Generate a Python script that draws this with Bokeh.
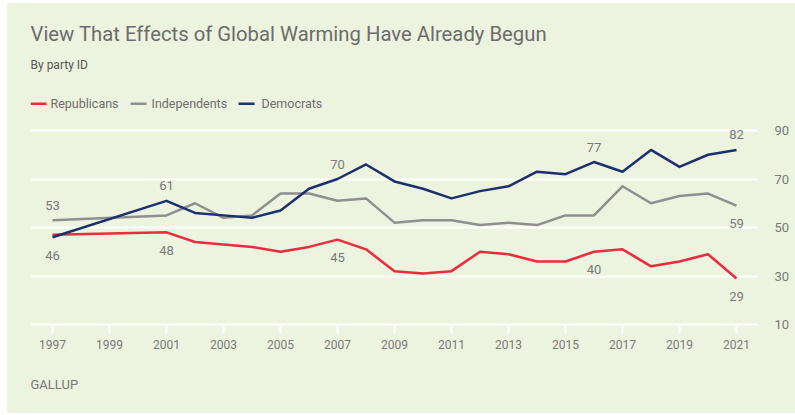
from bokeh.plotting import figure
from bokeh.models import FixedTicker, ColumnDataSource, Spacer, Range1d
from bokeh.layouts import column, row
from bokeh.core.properties import value
from bokeh.embed import file_html
from bokeh.resources import INLINE

# Share who say the effects of global warming have already begun, by party ID
years = [1997, 2001, 2002, 2003, 2004, 2005, 2006, 2007, 2008, 2009, 2010,
         2011, 2012, 2013, 2014, 2015, 2016, 2017, 2018, 2019, 2020, 2021]
republicans = [47, 48, 44, 43, 42, 40, 42, 45, 41, 32, 31,
               32, 40, 39, 36, 36, 40, 41, 34, 36, 39, 29]
independents = [53, 55, 60, 54, 55, 64, 64, 61, 62, 52, 53,
                53, 51, 52, 51, 55, 55, 67, 60, 63, 64, 59]
democrats = [46, 61, 56, 55, 54, 57, 66, 70, 76, 69, 66,
             62, 65, 67, 73, 72, 77, 73, 82, 75, 80, 82]

series_names = ["Republicans", "Independents", "Democrats"]
series_colors = ["#EF2A3D", "#8F8F8F", "#1C2F6E"]

# Annotated points: (series index, year, placement)
callouts = [
    (1, 1997, "above"), (2, 1997, "below"),
    (2, 2001, "above"), (0, 2001, "below"),
    (2, 2007, "above"), (0, 2007, "below"),
    (2, 2016, "above"), (0, 2016, "below"),
    (2, 2021, "above"), (1, 2021, "below"), (0, 2021, "below"),
]

x_ticks = list(range(1997, 2022, 2))
y_ticks = [10, 30, 50, 70, 90]

BG = "#ECF3DF"
FONT = "Roboto"
W = 788
LEFT, RIGHT = 23, 38          # side borders shared by every strip


def panel(height):
    """A blank strip whose data units are its own pixels."""
    f = figure(width=W, height=height, output_backend="svg", toolbar_location=None,
               x_range=Range1d(LEFT, W - RIGHT), y_range=Range1d(height, 0),
               min_border_left=LEFT, min_border_right=RIGHT,
               min_border_top=0, min_border_bottom=0,
               x_axis_type=None, y_axis_type=None)
    f.title.visible = False
    f.background_fill_color = BG
    f.border_fill_color = BG
    f.outline_line_color = None
    f.xgrid.visible = False
    f.ygrid.visible = False
    return f


def strip_text(f, x, y, s, size, color):
    f.text(x=[x], y=[y], text=[s], text_font=value(FONT), text_font_size=size,
           text_color=color, text_baseline="middle")


# ---- heading strip: title, subtitle, legend
head = panel(115)
strip_text(head, 23, 30, "View That Effects of Global Warming Have Already Begun",
           "20.3px", "#6C6C6C")
strip_text(head, 23, 61, "By party ID", "12px", "#555555")
legend_swatch_x = [23, 123, 231]
legend_text_x = [43, 144, 254]
for name, color, sx, tx in zip(series_names, series_colors, legend_swatch_x, legend_text_x):
    head.line([sx, sx + 16], [100.3, 100.3], line_color=color, line_width=2.5)
    strip_text(head, tx, 100.3, name, "12.5px", "#6E6E6E")

# ---- main chart
p = figure(width=W, height=236, output_backend="svg", toolbar_location=None,
           x_range=Range1d(1996.228, 2021.737), y_range=Range1d(10, 94.95),
           y_axis_location="right",
           min_border_left=LEFT, min_border_right=RIGHT,
           min_border_top=0, min_border_bottom=30)
p.background_fill_color = BG
p.border_fill_color = BG
p.outline_line_color = None

p.xgrid.visible = False
p.ygrid.ticker = FixedTicker(ticks=y_ticks)
p.ygrid.grid_line_color = "white"
p.ygrid.grid_line_width = 2

xa = p.xaxis[0]
xa.ticker = FixedTicker(ticks=x_ticks)
xa.axis_line_color = "white"
xa.axis_line_width = 2
xa.major_tick_line_color = "white"
xa.major_tick_line_width = 2
xa.major_tick_in = 0
xa.major_tick_out = 9
xa.minor_tick_line_color = None
xa.major_label_standoff = 6
xa.major_label_text_font = FONT
xa.major_label_text_font_size = "12px"
xa.major_label_text_color = "#7A7A7A"

ya = p.yaxis[0]
ya.ticker = FixedTicker(ticks=y_ticks)
ya.axis_line_color = None
ya.major_tick_line_color = None
ya.minor_tick_line_color = None
ya.major_label_standoff = 11
ya.major_label_text_font = FONT
ya.major_label_text_font_size = "13px"
ya.major_label_text_color = "#7A7A7A"

all_series = [republicans, independents, democrats]
for vals, color in zip(all_series, series_colors):
    p.line(years, vals, line_color=color, line_width=2.5, line_join="round")

# value callouts above / below their points
lab = {"x": [], "y": [], "t": [], "off": []}
for si, yr, where in callouts:
    v = all_series[si][years.index(yr)]
    lab["x"].append(yr)
    lab["y"].append(v)
    lab["t"].append(str(v))
    lab["off"].append(-15 if where == "above" else 18)
p.text(x="x", y="y", text="t", y_offset="off", source=ColumnDataSource(lab),
       text_align="center", text_baseline="middle", text_font=value(FONT),
       text_font_size="13px", text_color="#7A7A7A")

# ---- footer strip
foot = panel(59)
strip_text(foot, 23, 29.5, "GALLUP", "13px", "#777777")

body = column(head, p, foot, styles={"background-color": BG})
layout = column(Spacer(width=795, height=3),
                row(Spacer(width=7, height=410), body))

open("out.html", "w").write(file_html(layout, INLINE))
